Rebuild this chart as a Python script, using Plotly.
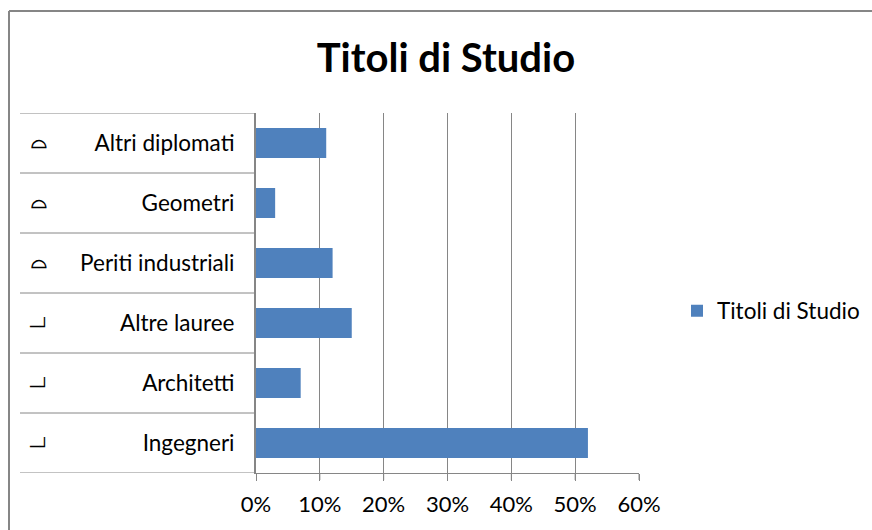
import plotly.graph_objects as go

categories = ["Ingegneri", "Architetti", "Altre lauree", "Periti industriali", "Geometri", "Altri diplomati"]
values = [52, 7, 15, 12, 3, 11]
group_marks = ["─┘", "─┘", "─┘", "⌓", "⌓", "⌓"]
mark_sizes = [16, 16, 16, 20, 20, 20]
x_ticks = [0, 10, 20, 30, 40, 50, 60]
x_labels = ["0%", "10%", "20%", "30%", "40%", "50%", "60%"]
title = "Titoli di Studio"

W, H = 872, 530
L, R, T, B = 256, 639, 113, 473
GRAY = "#868686"
FONT = "Lato"
px = lambda x: (x - L) / (R - L)
py = lambda y: (B - y) / (B - T)

fig = go.Figure(go.Bar(
    y=categories, x=values, orientation="h", name=title,
    marker=dict(color="#4F81BD", line=dict(width=0)), showlegend=True,
))

shapes = [
    dict(type="line", xref="paper", yref="paper", x0=px(9), x1=px(9), y0=py(11), y1=py(530), line=dict(color=GRAY, width=2)),
    dict(type="line", xref="paper", yref="paper", x0=px(9), x1=px(872), y0=py(11), y1=py(11), line=dict(color=GRAY, width=2)),
]
for i in range(len(categories) + 1):
    shapes.append(dict(type="line", xref="paper", yref="y", x0=px(20), x1=0, y0=i - 0.5, y1=i - 0.5,
                       line=dict(color=GRAY, width=1)))
for t in x_ticks:
    shapes.append(dict(type="line", xref="x", yref="paper", x0=t, x1=t, y0=0, y1=py(480),
                       line=dict(color=GRAY, width=2 if t == 0 else 1)))

annotations = [
    dict(xref="paper", yref="y", x=px(39), y=i, text=f"<b>{m}</b>", showarrow=False, xanchor="center", yanchor="middle",
         yshift=-3 if m == "─┘" else 2,
         font=dict(family="DejaVu Sans", size=s, color="#000000"))
    for i, (m, s) in enumerate(zip(group_marks, mark_sizes))
]

fig.update_layout(
    width=W, height=H, autosize=False,
    margin=dict(l=L, r=W - R, t=T, b=H - B, pad=0),
    paper_bgcolor="#FFFFFF", plot_bgcolor="#FFFFFF",
    bargap=0.5,
    font=dict(family=FONT, size=22.5, color="#000000"),
    title=dict(text=f"<b>{title}</b>", font=dict(family=FONT, size=40, color="#000000"),
               x=446 / W, xanchor="center", y=1 - 58 / H, yanchor="middle"),
    xaxis=dict(range=[0, 60], tickvals=x_ticks, ticktext=x_labels, showgrid=True, gridcolor=GRAY, gridwidth=1,
               ticks="outside", ticklen=7, tickwidth=1, tickcolor=GRAY, showline=True, linecolor=GRAY, linewidth=1,
               zeroline=False, ticklabelstandoff=5, tickfont=dict(family=FONT, size=22)),
    yaxis=dict(type="category", categoryorder="array", categoryarray=categories, range=[-0.5, 5.5],
               showline=True, linecolor=GRAY, linewidth=2, showgrid=False, zeroline=False,
               ticks="", ticklabelstandoff=15, tickfont=dict(family=FONT, size=22.5)),
    legend=dict(xref="container", yref="container", x=677 / W, xanchor="left", y=1 - 311 / H, yanchor="middle",
                bgcolor="rgba(0,0,0,0)", font=dict(family=FONT, size=22.5), itemwidth=30),
    shapes=shapes, annotations=annotations,
)
fig.write_html("out.html", post_script="document.body.style.margin='0';", config=dict(displayModeBar=False))
